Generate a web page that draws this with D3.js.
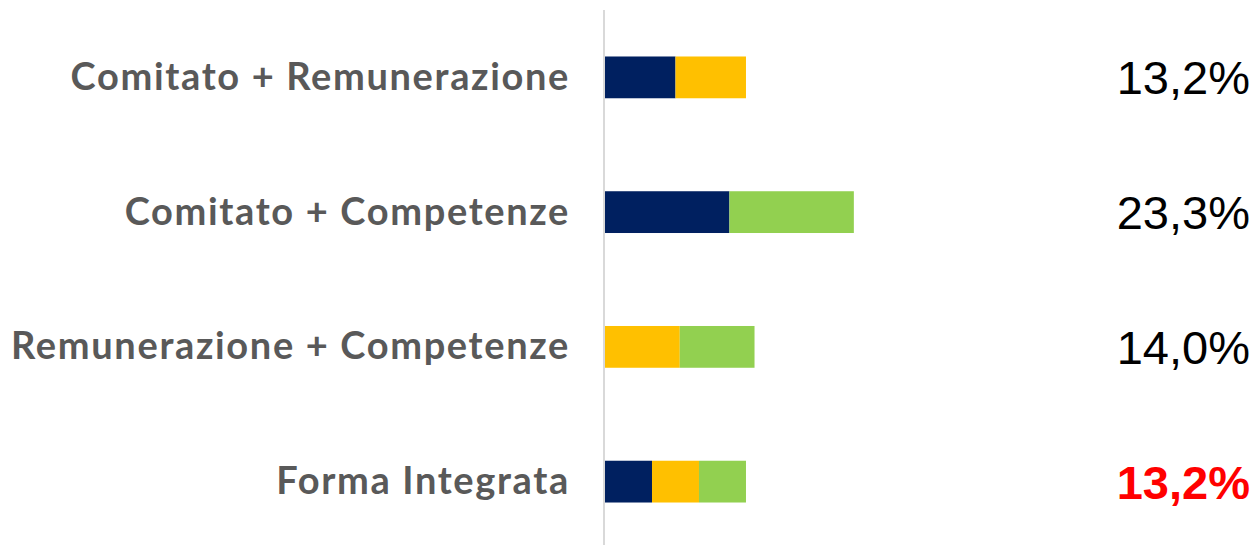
<!DOCTYPE html>
<html>
<head>
<meta charset="utf-8">
<script src="https://cdn.jsdelivr.net/npm/d3@7/dist/d3.min.js"></script>
<style>
  html, body { margin: 0; padding: 0; background: #ffffff; }
  svg { display: block; }
</style>
</head>
<body>
<script>
// Governance forms and their share, split into component parts
const categories = ["Comitato + Remunerazione", "Comitato + Competenze", "Remunerazione + Competenze", "Forma Integrata"];
const seriesNames = ["Comitato", "Remunerazione", "Competenze"];
const comitato      = [6.6, 11.65, 0, 4.4];
const remunerazione = [6.6, 0, 7.0, 4.4];
const competenze    = [0, 11.65, 7.0, 4.4];
const totalLabels   = ["13,2%", "23,3%", "14,0%", "13,2%"];
const highlighted   = [false, false, false, true];

const colors = {"Comitato": "#002060", "Remunerazione": "#ffc000", "Competenze": "#92d050"};

const width = 1256, height = 545;
const rows = categories.map((c, i) => ({
  category: c,
  Comitato: comitato[i],
  Remunerazione: remunerazione[i],
  Competenze: competenze[i],
  label: totalLabels[i],
  hl: highlighted[i]
}));

const svg = d3.select("body").append("svg")
  .attr("width", width).attr("height", height);

const x = d3.scaleLinear().domain([0, 10]).range([605, 711.8]);
const y = d3.scaleBand().domain(categories).range([10, 549]).paddingInner(0.69).paddingOuter(0.345);

const stack = d3.stack().keys(seriesNames)(rows);

svg.append("g").selectAll("g")
  .data(stack).join("g")
  .attr("fill", d => colors[d.key])
  .selectAll("rect")
  .data(d => d).join("rect")
  .attr("x", d => x(d[0]))
  .attr("y", d => y(d.data.category))
  .attr("width", d => x(d[1]) - x(d[0]))
  .attr("height", y.bandwidth());

// category axis on the left
const axis = svg.append("g")
  .attr("transform", `translate(${x(0) - 1},0)`)
  .call(d3.axisLeft(y).tickSize(0).tickPadding(34));
axis.select(".domain")
  .attr("d", `M0,10V${height}`)
  .attr("stroke", "#d9d9d9").attr("stroke-width", 2);
axis.selectAll("text")
  .attr("font-family", "Lato, sans-serif")
  .attr("font-weight", "bold")
  .attr("font-size", 38)
  .attr("letter-spacing", 1.65)
  .attr("dy", "0.33em")
  .attr("fill", "#595959");

// totals on the right
svg.append("g").selectAll("text")
  .data(rows).join("text")
  .attr("x", 1250)
  .attr("y", d => y(d.category) + y.bandwidth() / 2)
  .attr("dy", "0.36em")
  .attr("text-anchor", "end")
  .attr("font-family", "Liberation Sans, Arial, sans-serif")
  .attr("font-size", 47)
  .attr("font-weight", d => d.hl ? "bold" : "normal")
  .attr("fill", d => d.hl ? "#ff0000" : "#000000")
  .text(d => d.label);
</script>
</body>
</html>
